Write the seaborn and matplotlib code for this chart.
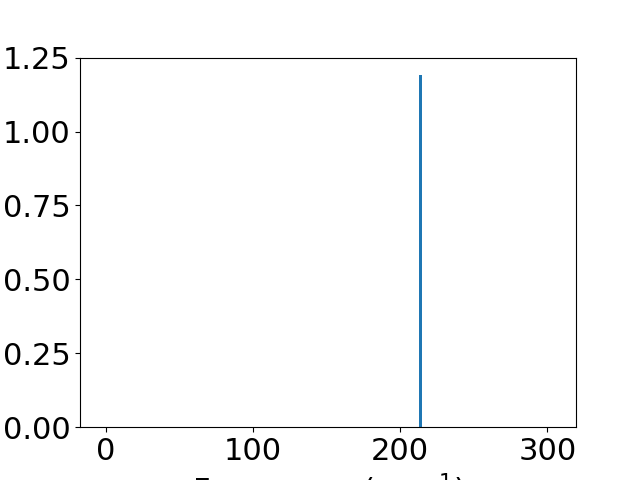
import matplotlib
matplotlib.use("Agg")
import matplotlib.pyplot as plt
import seaborn as sns
import numpy as np

frequencies = [213.7]
intensities = [1.19]
x_ticks = [0, 100, 200, 300]
y_ticks = [0.00, 0.25, 0.50, 0.75, 1.00, 1.25]

plt.rcParams['font.size'] = 22
fig, ax = plt.subplots(figsize=(6.4, 4.8), dpi=100)
sns.histplot(x=frequencies, weights=intensities, binwidth=2.2, binrange=(212.6, 214.8),
             color="#1f77b4", alpha=1, linewidth=0, ax=ax)
ax.set_xlim(-17.5, 319.5)
ax.set_ylim(0, 1.25)
ax.set_xticks(x_ticks)
ax.set_yticks(y_ticks)
ax.set_xlabel("Frequency (cm$^{-1}$)")
ax.set_ylabel("")
fig.savefig("out.png", dpi=100)
